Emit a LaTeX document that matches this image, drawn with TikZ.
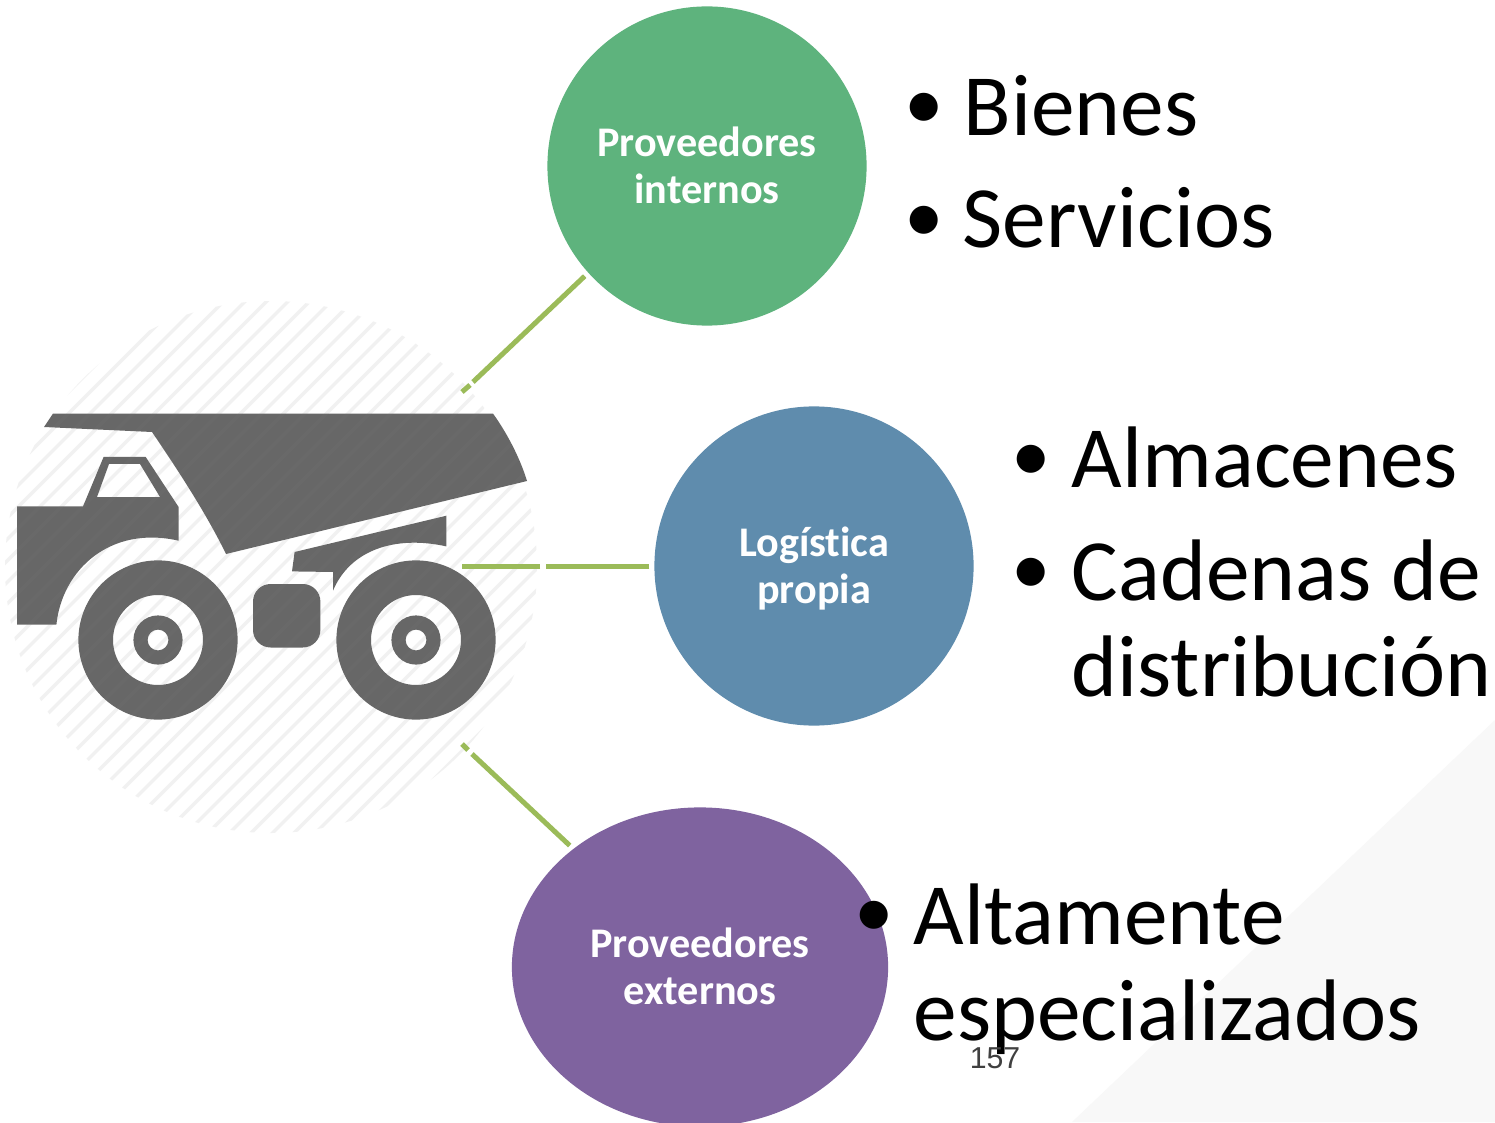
\documentclass[tikz,border=0pt]{standalone}
\usepackage{fontspec}
\setmainfont{Carlito}[Ligatures=NoCommon]
\newfontfamily\numfont{Liberation Sans}
\usetikzlibrary{shapes.geometric}
\definecolor{hatchc}{HTML}{F1F1F1}
\definecolor{truckc}{HTML}{676767}
\definecolor{linkc}{HTML}{9BBB59}
\definecolor{greenc}{HTML}{5EB37D}
\definecolor{bluec}{HTML}{5F8CAD}
\definecolor{purplec}{HTML}{7F639F}
\definecolor{cornerc}{HTML}{F8F8F8}
\newcommand{\truckshape}{
  (53,413.6) -- (493,413.6) .. controls (507,433) and (520,458) .. (527,481)
  -- (226,554) .. controls (208,517) and (182,476) .. (152,432) -- (44,427) -- cycle
  (17,506.4) -- (83,506.4) -- (103.6,457) -- (145.7,457) -- (178.6,507) -- (178.6,540.7)
  .. controls (110,525) and (62,570) .. (56.4,624.6) -- (17,624.6) -- cycle
  (97,497) -- (109,464) -- (140,464) -- (160,497) -- cycle
  (158,640) circle (79.6) (158,640) circle (45) (158,640) circle (24.6) (158,640) circle (10.4)
  (416,640) circle (79.6) (416,640) circle (45) (416,640) circle (24.6) (416,640) circle (10.4)
  (294.6,552) -- (446.4,515.7) -- (446.4,546.4) .. controls (395,535) and (350,550) .. (333,590.7)
  -- (333,572) -- (292,571.4) -- cycle
  [rounded corners=5] (253,584) rectangle (320.4,647.5) [sharp corners]
}
\newcommand{\hubline}[1]{\vphantom{Pí}#1}
\newcommand{\hubfirst}[1]{\raisebox{1.42pt}{\vphantom{Pí}}#1}
\newcommand{\hublast}[1]{\raisebox{-0.57pt}{\vphantom{Pí}}#1}
\tikzset{
  x=0.01cm, y=-0.01cm,
  hub/.style={circle, draw=none, minimum size=3.19cm, inner sep=0pt, outer sep=0.05cm,
    text=white, font=\fontsize{12}{13.3}\selectfont\bfseries, align=center},
  hubellipse/.style={ellipse, draw=none, minimum width=3.76cm, minimum height=3.19cm, inner sep=0pt, outer sep=0.05cm,
    text=white, font=\fontsize{12}{13.3}\selectfont\bfseries, align=center},
  link/.style={draw=linkc, line width=0.05cm},
  bigtext/.style={anchor=base west, inner sep=0pt, font=\fontsize{24.85}{27}\selectfont, text=black},
  bulletmark/.style={anchor=center, inner sep=0pt, font=\fontsize{22.5}{24}\selectfont, text=black},
  pagenum/.style={inner sep=0pt, font=\fontsize{8.6}{10}\numfont, text=black!75},
  hatchline/.style={line width=0.035cm}
}
\begin{document}
\begin{tikzpicture}
\useasboundingbox (0,0) rectangle (1495,1122);
\fill[white] (0,0) rectangle (1495,1122);
\fill[cornerc] (1495,720) -- (1495,1122) -- (1072,1122) -- cycle;

% hatched disc
\begin{scope}
  \clip (271,567) circle (266);
  \foreach \k in {-30,-29,...,30}
    \draw[hatchc, hatchline] (271+\k*21.5+9.5-400,567+400) -- (271+\k*21.5+9.5+400,567-400);
\end{scope}

% truck
\fill[truckc, even odd rule] \truckshape;
\begin{scope}[even odd rule]
  \clip \truckshape;
  \foreach \k in {-30,-29,...,30}
    \draw[white, opacity=0.015, hatchline] (271+\k*21.5+9.5-400,567+400) -- (271+\k*21.5+9.5+400,567-400);
\end{scope}

% hubs
\node[hub, fill=greenc] (internos) at (707,166) {\hubline{Proveedores}\\\hublast{internos}};
\node[hub, fill=bluec] (propia) at (814,566) {\hubfirst{Logística}\\\hubline{propia}};
\node[hubellipse, fill=purplec] (externos) at (700,967) {\hubline{Proveedores}\\\hublast{externos}};

% connectors
\coordinate (a1) at (473,382);
\coordinate (a2) at (470,385);
\coordinate (a3) at (462,392);
\coordinate (b1) at (546,566);
\coordinate (b2) at (540,566);
\coordinate (b3) at (462,566);
\coordinate (c1) at (472,754);
\coordinate (c2) at (468,750);
\coordinate (c3) at (462,744);
\draw[link] (internos.222.5) -- (a1);
\draw[link] (a2) -- (a3);
\draw[link] (propia.180) -- (b1);
\draw[link] (b2) -- (b3);
\draw[link] (externos.137) -- (c1);
\draw[link] (c2) -- (c3);

% lists
\node[bulletmark] (b-bienes) at (924,111) {•};
\node[bigtext] (bienes) at (963,136) {Bienes};
\node[bulletmark] (b-servicios) at (924,224) {•};
\node[bigtext] (servicios) at (962,248) {Servicios};
\node[bulletmark] (b-almacenes) at (1031,463) {•};
\node[bigtext] (almacenes) at (1071,488) {Almacenes};
\node[bulletmark] (b-cadenas) at (1031,576) {•};
\node[bigtext] (cadenas) at (1071,600) {Cadenas de};
\node[bigtext] (distribucion) at (1071,696) {distribución};
\node[bulletmark] (b-altamente) at (874,919) {•};
\node[bigtext] (altamente) at (913,944) {Altamente};
\node[bigtext] (especializados) at (913,1040) {especializados};
\node[pagenum] (num) at (995,1058) {157};
\end{tikzpicture}
\end{document}
